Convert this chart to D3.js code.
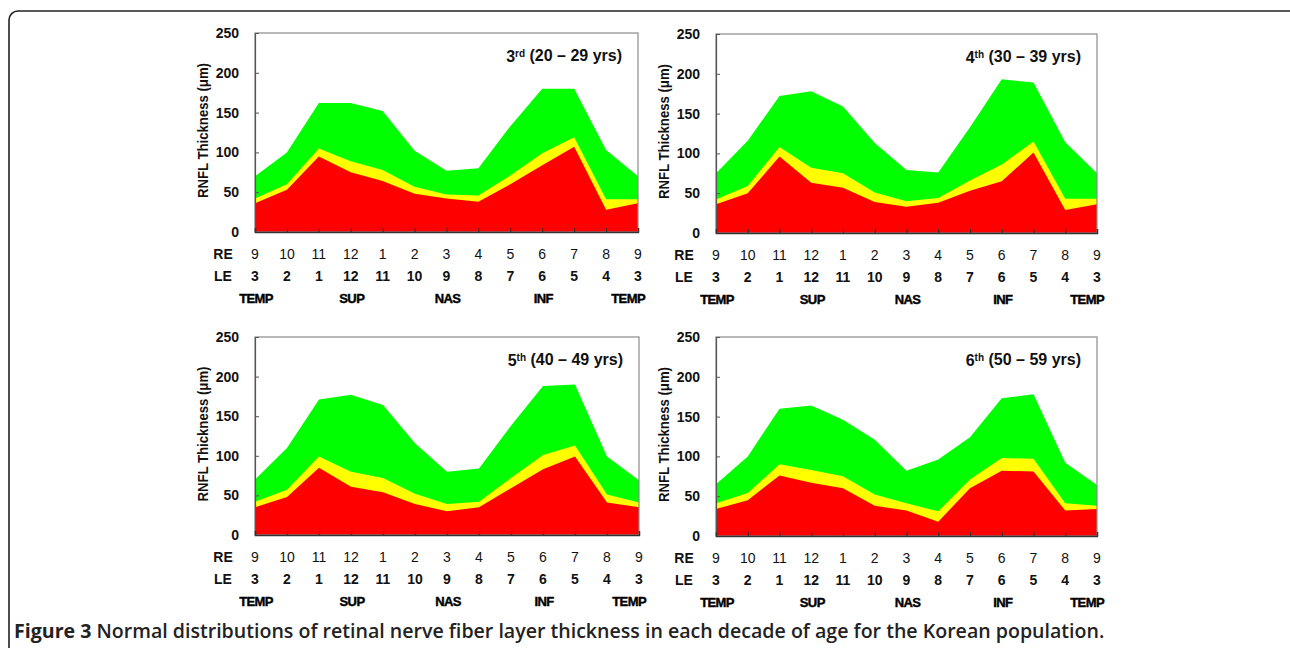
<!DOCTYPE html>
<html>
<head>
<meta charset="utf-8">
<script src="https://cdn.jsdelivr.net/npm/d3@7"></script>
<style>
  html, body { margin: 0; padding: 0; background: #fff; }
  svg { display: block; }
</style>
</head>
<body>
<svg id="chart" width="1290" height="648"></svg>
<script>
// ---------------- DATA ----------------
const reLabels = ["9","10","11","12","1","2","3","4","5","6","7","8","9"];
const leLabels = ["3","2","1","12","11","10","9","8","7","6","5","4","3"];
const regionLabels = ["TEMP","SUP","NAS","INF","TEMP"];
const regionPositions = [0, 3, 6, 9, 12];
const yTicks = [0, 50, 100, 150, 200, 250];

const panelOrdinals = ["3", "4", "5", "6"];
const panelSuffixes = ["rd", "th", "th", "th"];
const panelAges = ["(20 \u2013 29 yrs)", "(30 \u2013 39 yrs)", "(40 \u2013 49 yrs)", "(50 \u2013 59 yrs)"];

// 1st percentile (red top), 5th percentile (yellow top), 95th percentile (green top)
const red3    = [36, 53, 95, 75, 64, 48, 42, 38, 60, 84, 107, 28, 36];
const yellow3 = [42, 60, 105, 89, 78, 57, 47, 46, 71, 99, 119, 41, 41];
const green3  = [70, 100, 162, 162, 152, 102, 77, 80, 133, 180, 180, 103, 70];

const red4    = [36, 50, 96, 63, 57, 39, 33, 38, 53, 65, 101, 29, 36];
const yellow4 = [42, 59, 108, 82, 75, 51, 40, 44, 66, 86, 115, 43, 43];
const green4  = [75, 116, 172, 178, 159, 113, 79, 76, 133, 193, 189, 114, 75];

const red5    = [35, 48, 85, 61, 54, 39, 30, 35, 59, 83, 99, 41, 35];
const yellow5 = [42, 57, 99, 80, 72, 52, 39, 42, 72, 101, 113, 51, 41];
const green5  = [70, 110, 171, 177, 164, 116, 80, 84, 138, 188, 190, 99, 69];

const red6    = [34, 45, 76, 67, 60, 38, 32, 18, 60, 82, 81, 32, 34];
const yellow6 = [41, 54, 90, 83, 75, 52, 41, 31, 71, 98, 97, 41, 38];
const green6  = [65, 100, 160, 164, 146, 121, 82, 96, 124, 173, 178, 92, 64];

const redSeries = [red3, red4, red5, red6];
const yellowSeries = [yellow3, yellow4, yellow5, yellow6];
const greenSeries = [green3, green4, green5, green6];

const captionBold = "Figure 3";
const captionText = " Normal distributions of retinal nerve fiber layer thickness in each decade of age for the Korean population.";
const yAxisTitle = "RNFL Thickness (\u03bcm)";

// ---------------- LAYOUT ----------------
const panels = [
  { x: 255, y: 33,  w: 383, h: 199 },
  { x: 716, y: 34,  w: 381, h: 199 },
  { x: 255, y: 337, w: 384, h: 198 },
  { x: 716, y: 337, w: 381, h: 199 }
];
const colors = { red: "#ff0000", yellow: "#ffff00", green: "#00ff00" };
const FONT = "'Liberation Sans', Arial, sans-serif";

const svg = d3.select("#chart");

// outer rounded frame
svg.append("rect")
  .attr("x", 9).attr("y", 11)
  .attr("width", 1300).attr("height", 700)
  .attr("rx", 9).attr("ry", 9)
  .attr("fill", "none")
  .attr("stroke", "#222")
  .attr("stroke-width", 1.6);

panels.forEach((p, i) => {
  const g = svg.append("g").attr("transform", `translate(${p.x},${p.y})`);
  const x = d3.scalePoint().domain(d3.range(reLabels.length)).range([0, p.w]);
  const y = d3.scaleLinear().domain([0, 250]).range([p.h, 0]);

  const mkArea = vals => d3.area()
    .x((d, j) => x(j))
    .y0(y(0))
    .y1(d => y(d))(vals);

  g.append("path").attr("d", mkArea(greenSeries[i])).attr("fill", colors.green);
  g.append("path").attr("d", mkArea(yellowSeries[i])).attr("fill", colors.yellow);
  g.append("path").attr("d", mkArea(redSeries[i])).attr("fill", colors.red);

  // plot border
  g.append("rect")
    .attr("x", 0).attr("y", 0).attr("width", p.w).attr("height", p.h)
    .attr("fill", "none").attr("stroke", "#8a8a8a").attr("stroke-width", 1.2);

  // y axis
  const yAx = g.append("g").call(
    d3.axisLeft(y).tickValues(yTicks).tickSize(-4).tickPadding(16)
  );
  yAx.select(".domain").attr("stroke", "#555").attr("stroke-width", 1.2);
  yAx.selectAll(".tick line").attr("stroke", "#555");
  yAx.selectAll(".tick text")
    .attr("font-family", FONT).attr("font-size", 14).attr("font-weight", "bold")
    .attr("fill", "#111");

  // x axis (ticks inward)
  const xAx = g.append("g").attr("transform", `translate(0,${p.h})`).call(
    d3.axisBottom(x).tickSize(-4).tickFormat(() => "")
  );
  xAx.select(".domain").attr("stroke", "#333").attr("stroke-width", 1.4);
  xAx.selectAll(".tick line").attr("stroke", "#333").attr("stroke-width", 1.2);

  // RE / LE rows
  const rowRE = p.h + 22, rowLE = p.h + 44, rowReg = p.h + 66;
  g.selectAll(".re").data(reLabels).enter().append("text")
    .attr("x", (d, j) => x(j)).attr("y", rowRE)
    .attr("dy", "0.35em").attr("text-anchor", "middle")
    .attr("font-family", FONT).attr("font-size", 14).attr("fill", "#111")
    .text(d => d);
  g.selectAll(".le").data(leLabels).enter().append("text")
    .attr("x", (d, j) => x(j)).attr("y", rowLE)
    .attr("dy", "0.35em").attr("text-anchor", "middle")
    .attr("font-family", FONT).attr("font-size", 14).attr("font-weight", "bold").attr("fill", "#111")
    .text(d => d);
  [["RE", rowRE], ["LE", rowLE]].forEach(([t, yy]) => {
    g.append("text").attr("x", -32).attr("y", yy).attr("dy", "0.35em")
      .attr("text-anchor", "middle")
      .attr("font-family", FONT).attr("font-size", 14).attr("font-weight", "bold").attr("fill", "#111")
      .text(t);
  });

  // region labels
  g.selectAll(".reg").data(regionLabels).enter().append("text")
    .attr("x", (d, j) => j === regionLabels.length - 1 ? x(regionPositions[j]) + 7 : x(regionPositions[j]) + 1)
    .attr("y", rowReg).attr("dy", "0.35em")
    .attr("text-anchor", (d, j) => j === regionLabels.length - 1 ? "end" : "middle")
    .attr("font-family", FONT).attr("font-size", 13).attr("font-weight", "bold")
    .attr("letter-spacing", -0.6).attr("fill", "#000")
    .attr("stroke", "#000").attr("stroke-width", 0.4)
    .text(d => d);

  // y axis title
  g.append("text")
    .attr("transform", `translate(-52,${p.h / 2 - 2}) rotate(-90)`)
    .attr("dy", "0.35em").attr("text-anchor", "middle")
    .attr("font-family", FONT).attr("font-size", 15).attr("font-weight", "bold").attr("fill", "#111")
    .attr("textLength", 135).attr("lengthAdjust", "spacingAndGlyphs")
    .text(yAxisTitle);

  // panel title
  const t = g.append("text")
    .attr("x", p.w - 16).attr("y", 23).attr("dy", "0.35em")
    .attr("text-anchor", "end")
    .attr("font-family", FONT).attr("font-size", 16).attr("font-weight", "bold").attr("fill", "#111");
  t.append("tspan").text(panelOrdinals[i]);
  t.append("tspan").attr("font-size", 10).attr("dy", "-0.5em").text(panelSuffixes[i]);
  t.append("tspan").attr("dy", "0.3em").text(" " + panelAges[i]);
});

// caption
const cap = svg.append("text")
  .attr("x", 14).attr("y", 638)
  .attr("font-family", "'Open Sans', 'Noto Sans', sans-serif")
  .attr("font-size", 19).attr("fill", "#222");
cap.append("tspan").attr("font-weight", 700).text(captionBold);
cap.append("tspan").attr("font-weight", 600).text(captionText);
const targetW = 1091;
const w0 = cap.node().getComputedTextLength();
cap.attr("font-size", 19 * targetW / w0);
</script>
</body>
</html>
